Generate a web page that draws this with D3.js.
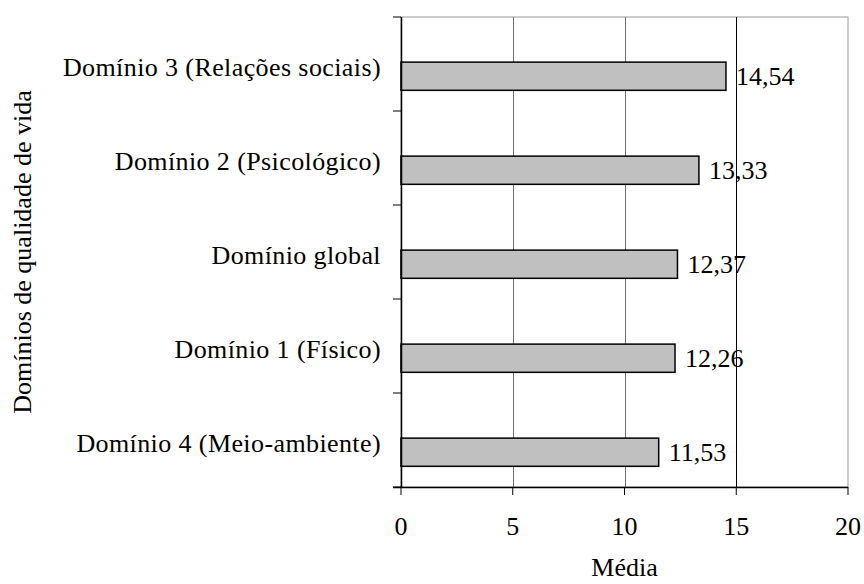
<!DOCTYPE html>
<html>
<head>
<meta charset="utf-8">
<script src="https://cdn.jsdelivr.net/npm/d3@7"></script>
<style>
  body { margin: 0; background: #fff; }
  text { font-family: "Liberation Serif", "Times New Roman", serif; fill: #000; }
</style>
</head>
<body>
<div id="chart-area"></div>
<script>
var categories = ["Domínio 3 (Relações sociais)", "Domínio 2 (Psicológico)", "Domínio global",
                  "Domínio 1 (Físico)", "Domínio 4 (Meio-ambiente)"];
var values = [14.54, 13.33, 12.37, 12.26, 11.53];
var xTicks = [0, 5, 10, 15, 20];

var margin = {top: 17, right: 16, bottom: 97, left: 401};
var width = 864 - margin.left - margin.right;
var height = 584 - margin.top - margin.bottom;
var fs = "26px";

var svg = d3.select("#chart-area")
    .append("svg")
    .attr("width", 864)
    .attr("height", 584);

var g = svg.append("g")
    .attr("transform", "translate(" + margin.left + ", " + margin.top + ")");

var x = d3.scaleLinear().domain([0, 20]).range([0, width]);
var y = d3.scaleBand().domain(categories).range([0, height]).padding(0);

// plot border + gridlines
g.append("rect")
    .attr("x", 0).attr("y", 0)
    .attr("width", width).attr("height", height)
    .attr("fill", "none")
    .attr("stroke", "#9a9a9a")
    .attr("stroke-width", 1);

g.selectAll(".grid")
    .data([5, 10, 15])
    .enter().append("line")
    .attr("class", "grid")
    .attr("x1", (d) => Math.round(x(d)) + 0.5)
    .attr("x2", (d) => Math.round(x(d)) + 0.5)
    .attr("y1", 0).attr("y2", height)
    .attr("stroke", (d) => d == 15 ? "#000" : "#707070")
    .attr("stroke-width", 1);

// bars
var bh = y.bandwidth() * 0.3;
g.selectAll(".bar")
    .data(values)
    .enter().append("rect")
    .attr("class", "bar")
    .attr("x", x(0))
    .attr("y", (d, i) => y(categories[i]) + y.bandwidth() * 0.48)
    .attr("width", (d) => x(d) - x(0))
    .attr("height", bh)
    .attr("fill", "#c0c0c0")
    .attr("stroke", "#000")
    .attr("stroke-width", 1.5);

g.selectAll(".val")
    .data(values)
    .enter().append("text")
    .attr("class", "val")
    .attr("x", (d) => x(d) + 10)
    .attr("y", (d, i) => y(categories[i]) + y.bandwidth() * 0.48 + bh / 2)
    .attr("dy", "0.35em")
    .attr("font-size", fs)
    .text((d) => d3.format(".2f")(d).replace(".", ","));

// y axis
var yAxis = g.append("g");
yAxis.append("line")
    .attr("x1", 0.5).attr("x2", 0.5)
    .attr("y1", 0).attr("y2", height)
    .attr("stroke", "#000").attr("stroke-width", 1.5);
yAxis.selectAll(".ytick")
    .data(d3.range(categories.length + 1))
    .enter().append("line")
    .attr("x1", -8).attr("x2", 0)
    .attr("y1", (i) => i * y.step())
    .attr("y2", (i) => i * y.step())
    .attr("stroke", "#000");
yAxis.selectAll(".ylab")
    .data(categories)
    .enter().append("text")
    .attr("x", -20)
    .attr("y", (d) => y(d) + y.bandwidth() / 2 + 3)
    .attr("dy", "0.35em")
    .attr("text-anchor", "end")
    .attr("font-size", fs)
    .attr("letter-spacing", "0.4px")
    .text((d) => d);

// x axis
var xAxisGroup = g.append("g")
    .attr("transform", "translate(0, " + height + ")");
xAxisGroup.append("line")
    .attr("x1", -8).attr("x2", width)
    .attr("y1", 0.5).attr("y2", 0.5)
    .attr("stroke", "#000").attr("stroke-width", 1.5);
xAxisGroup.selectAll(".xtick")
    .data(xTicks)
    .enter().append("line")
    .attr("x1", (d) => x(d)).attr("x2", (d) => x(d))
    .attr("y1", 0).attr("y2", 8)
    .attr("stroke", "#000");
xAxisGroup.selectAll(".xlab")
    .data(xTicks)
    .enter().append("text")
    .attr("x", (d) => x(d))
    .attr("y", 39)
    .attr("dy", "0.35em")
    .attr("text-anchor", "middle")
    .attr("font-size", fs)
    .text((d) => d);

g.append("text")
    .attr("x", width / 2)
    .attr("y", height + 80)
    .attr("dy", "0.35em")
    .attr("text-anchor", "middle")
    .attr("font-size", fs)
    .text("Média");

g.append("text")
    .attr("x", -(height / 2))
    .attr("y", -379)
    .attr("dy", "0.35em")
    .attr("text-anchor", "middle")
    .attr("transform", "rotate(-90)")
    .attr("font-size", fs)
    .text("Domínios de qualidade de vida");
</script>
</body>
</html>
